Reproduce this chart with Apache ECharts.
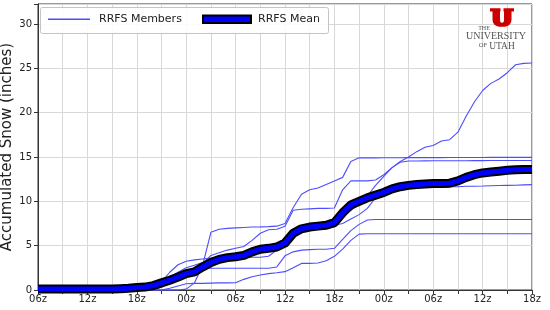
<!DOCTYPE html>
<html>
<head>
<meta charset="utf-8">
<script src="https://cdn.jsdelivr.net/npm/echarts@6/dist/echarts.min.js"></script>
<style>
html,body{margin:0;padding:0;background:#fff;}
#c{width:550px;height:310px;}
</style>
</head>
<body>
<div id="c"></div>
<script>
// Forecast hour (0 = 06z day 1 ... 60 = 18z day 3)
const hours = [0,1,2,3,4,5,6,7,8,9,10,11,12,13,14,15,16,17,18,19,20,21,22,23,24,25,26,27,28,29,30,
  31,32,33,34,35,36,37,38,39,40,41,42,43,44,45,46,47,48,49,50,51,52,53,54,55,56,57,58,59,60];

// Tick labels every 6 hours
const tickLabels = ['06z','12z','18z','00z','06z','12z','18z','00z','06z','12z','18z'];

// RRFS ensemble members (accumulated snow, inches), hourly
const memberA = [0,0,0,0,0,0,0,0,0,0,0,0,0.05,0.1,0.45,0.9,2.0,2.85,3.25,3.4,3.5,3.6,3.6,3.65,3.65,3.65,3.7,3.7,3.8,4.5,5.6,
  6.8,7.1,7.15,7.15,7.2,7.3,7.5,8.0,8.5,9.2,10.4,11.2,11.4,11.5,11.55,11.6,11.6,11.6,11.62,11.65,11.65,11.7,11.7,11.72,11.75,11.78,11.8,11.82,11.85,11.88];
const memberB = [0,0,0,0,0,0,0,0,0,0,0,0,0,0,0,0,0,0,0.1,0.8,2.8,6.5,6.85,6.95,7.0,7.05,7.1,7.12,7.15,7.2,7.5,
  9.3,10.8,11.3,11.5,11.9,12.3,12.7,14.5,14.9,14.9,14.9,14.92,14.92,14.92,14.93,14.93,14.93,14.93,14.93,14.94,14.94,14.94,14.94,14.94,14.95,14.95,14.95,14.95,14.95,14.95];
const memberC = [0,0,0,0,0,0,0,0,0,0,0,0,0,0,0.3,0.8,1.2,1.6,2.0,2.4,3.0,3.9,4.2,4.5,4.7,4.9,5.6,6.4,6.8,6.85,7.2,
  9.0,9.1,9.15,9.2,9.2,9.25,11.3,12.3,12.3,12.3,12.4,13.0,13.8,14.4,14.55,14.55,14.56,14.57,14.57,14.58,14.58,14.58,14.59,14.59,14.6,14.6,14.6,14.6,14.6,14.6];
const memberD = [0,0,0,0,0,0,0,0,0,0,0,0,0.1,0.2,0.5,1.0,1.5,2.0,2.5,2.8,3.1,3.3,3.5,3.7,3.85,4.0,4.4,4.7,4.85,5.1,5.8,
  6.6,7.0,7.1,7.2,7.35,7.8,8.6,9.0,9.6,10.6,11.8,12.8,13.8,14.5,15.0,15.6,16.1,16.3,16.8,16.95,17.8,19.6,21.2,22.5,23.3,23.8,24.5,25.4,25.55,25.6];
const memberE = [0,0,0,0,0,0,0,0,0,0,0,0,0,0,0,0.3,1.0,1.6,2.1,2.35,2.45,2.45,2.45,2.45,2.45,2.45,2.45,2.45,2.45,2.6,3.85,
  4.3,4.5,4.55,4.6,4.6,4.7,5.7,6.7,7.4,7.9,7.95,7.95,7.95,7.95,7.95,7.95,7.95,7.95,7.95,7.95,7.95,7.95,7.95,7.95,7.95,7.95,7.95,7.95,7.95,7.95];
const memberF = [0,0,0,0,0,0,0,0,0,0,0,0,0,0,0,0,0.2,0.45,0.7,0.75,0.75,0.78,0.8,0.8,0.82,1.2,1.5,1.7,1.85,1.95,2.07,
  2.5,3.0,3.0,3.05,3.3,3.8,4.6,5.6,6.3,6.35,6.35,6.35,6.35,6.35,6.35,6.35,6.35,6.35,6.35,6.35,6.35,6.35,6.35,6.35,6.35,6.35,6.35,6.35,6.35,6.35];

// RRFS ensemble mean
const meanValues = [0.1,0.1,0.1,0.1,0.1,0.1,0.1,0.1,0.1,0.12,0.15,0.2,0.28,0.33,0.5,0.8,1.1,1.45,1.85,2.05,2.6,3.1,3.45,3.65,3.75,3.9,4.3,4.6,4.7,4.85,5.3,
  6.4,6.9,7.1,7.2,7.3,7.6,8.7,9.6,10.0,10.4,10.7,11.0,11.4,11.65,11.8,11.9,11.95,12.0,12.02,12.05,12.3,12.7,13.0,13.2,13.3,13.4,13.5,13.55,13.6,13.6];

const members = [memberA, memberB, memberC, memberD, memberE, memberF];

const FONT = 'DejaVu Sans';
const memberColor = '#4d4dff';
const toPairs = arr => hours.map((h, i) => [h, arr[i]]);

const series = members.map(m => ({
  type: 'line', name: 'RRFS Members', data: toPairs(m), symbol: 'none', showSymbol: false, clip: false,
  lineStyle: { color: memberColor, width: 1.1, opacity: 1 }, z: 2, silent: true
}));
series.push({
  type: 'line', name: 'RRFS Mean outline', data: toPairs(meanValues), symbol: 'none', showSymbol: false, clip: false,
  lineStyle: { color: '#000', width: 9, join: 'round', cap: 'butt' }, z: 3, silent: true
});
series.push({
  type: 'line', name: 'RRFS Mean', data: toPairs(meanValues), symbol: 'none', showSymbol: false, clip: false,
  lineStyle: { color: '#0000ff', width: 5, join: 'round', cap: 'butt' }, z: 4, silent: true
});

// Block "U" outline for the logo (local coordinates, px)
const uShape = [[0,0],[10.5,0],[10.5,3.3],[10,3.3],[10,12],[10.3,13.5],[11,14.2],[12,14.5],[13,14.2],[13.7,13.5],[14,12],
  [14,3.3],[13.5,3.3],[13.5,0],[24,0],[24,3.3],[21.5,3.3],[21.5,11.5],[21,14.2],[19.5,16.5],[17,18],[14.5,18.4],[12,18.5],
  [9.5,18.4],[7,18],[4.5,16.5],[3,14.2],[2.5,11.5],[2.5,3.3],[0,3.3]];

const chart = echarts.init(document.getElementById('c'), null, { renderer: 'canvas', width: 550, height: 310 });

const option = {
  animation: false,
  backgroundColor: '#fff',
  grid: { left: 38, right: 18, top: 4, bottom: 20, outerBoundsMode: 'none', containLabel: false,
          show: true, borderColor: '#333', borderWidth: 1, backgroundColor: '#fff' },
  xAxis: {
    type: 'value', min: 0, max: 60, interval: 3,
    axisLine: { show: true, lineStyle: { color: '#333', width: 1 } },
    axisTick: { show: true, length: 4, lineStyle: { color: '#333' } },
    axisLabel: {
      formatter: v => (v % 6 === 0 ? tickLabels[v / 6] : ''),
      color: '#222', fontFamily: FONT, fontSize: 10, margin: 4
    },
    splitLine: { show: true, lineStyle: { color: '#d8d8d8', width: 1 } }
  },
  yAxis: {
    type: 'value', min: 0, max: 32.25, interval: 5,
    axisLine: { show: true, lineStyle: { color: '#333', width: 1 } },
    axisTick: { show: true, length: 4, lineStyle: { color: '#333' } },
    axisLabel: {
      formatter: v => (v % 5 === 0 ? String(v) : ''),
      color: '#222', fontFamily: FONT, fontSize: 10, margin: 6
    },
    splitLine: { show: true, lineStyle: { color: '#d8d8d8', width: 1 } }
  },
  graphic: [
    // y-axis title
    { type: 'text', z: 50, x: 7.5, y: 147, rotation: Math.PI / 2,
      style: { text: 'Accumulated Snow (inches)', font: '15px "DejaVu Sans"', fill: '#222', align: 'center', verticalAlign: 'middle' } },
    // legend
    { type: 'rect', z: 100, shape: { x: 40.5, y: 7.5, width: 288, height: 26, r: 2 },
      style: { fill: 'rgba(255,255,255,0.9)', stroke: '#c4c4c4', lineWidth: 1 } },
    { type: 'rect', z: 101, shape: { x: 48, y: 18.5, width: 42, height: 1.6 },
      style: { fill: '#4d4dff' } },
    { type: 'text', z: 101, x: 99, y: 19, style: { text: 'RRFS Members', font: '11px "DejaVu Sans"', fill: '#222', verticalAlign: 'middle', align: 'left' } },
    { type: 'rect', z: 101, shape: { x: 203, y: 15.5, width: 48, height: 7.5 },
      style: { fill: '#0000ff', stroke: '#000', lineWidth: 2 } },
    { type: 'text', z: 101, x: 258, y: 19, style: { text: 'RRFS Mean', font: '11px "DejaVu Sans"', fill: '#222', verticalAlign: 'middle', align: 'left' } },
    // University of Utah logo
    { type: 'polygon', z: 101, x: 490, y: 8.3, shape: { points: uShape }, style: { fill: '#cc0000' } },
    { type: 'text', z: 101, x: 484, y: 28.2, style: { text: 'THE', font: '6px "Liberation Serif"', fill: '#555', align: 'center', verticalAlign: 'middle' } },
    { type: 'text', z: 101, x: 496, y: 36.8, style: { text: 'UNIVERSITY', font: '10px "Liberation Serif"', fill: '#555', align: 'center', verticalAlign: 'middle' } },
    { type: 'text', z: 101, x: 483, y: 45.5, style: { text: 'OF', font: '6.5px "Liberation Serif"', fill: '#555', align: 'center', verticalAlign: 'middle' } },
    { type: 'text', z: 101, x: 502, y: 46, style: { text: 'UTAH', font: '9.5px "Liberation Serif"', fill: '#555', align: 'center', verticalAlign: 'middle' } }
  ],
  series: series
};
chart.setOption(option);
</script>
</body>
</html>
